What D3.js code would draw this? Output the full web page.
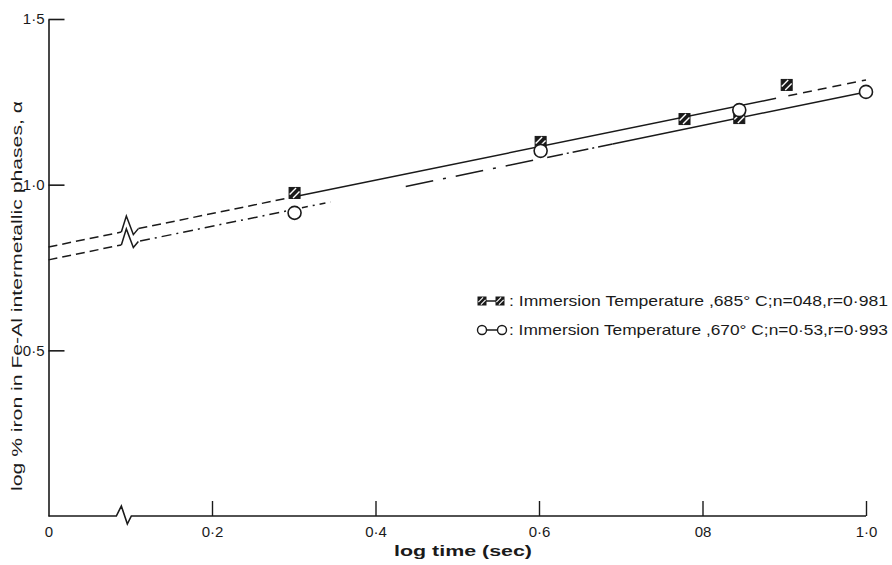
<!DOCTYPE html>
<html>
<head>
<meta charset="utf-8">
<script src="https://cdn.jsdelivr.net/npm/d3@7/dist/d3.min.js"></script>
<style>
  html, body { margin: 0; padding: 0; background: #fff; }
  svg { display: block; font-family: "Liberation Sans", Arial, sans-serif; }
</style>
</head>
<body>
<svg id="chart" width="892" height="565"></svg>
<script>
// ---------------- data ----------------
const xTickValues = [0, 0.2, 0.4, 0.6, 0.8, 1.0];
const xTickLabels = ["0", "0·2", "0·4", "0·6", "08", "1·0"];
const yTickValues = [0.5, 1.0, 1.5];
const yTickLabels = ["0·5", "1·0", "1·5"];

// 685 °C series (hatched squares)
const logTime685 = [0.301, 0.602, 0.778, 0.845, 0.903];
const logIron685 = [0.975, 1.129, 1.198, 1.201, 1.301];
// 670 °C series (open circles)
const logTime670 = [0.301, 0.602, 0.845, 1.0];
const logIron670 = [0.915, 1.102, 1.225, 1.280];

// fitted lines (intercept at log time 0, slope)
const fitIntercepts = [0.812, 0.773];
const fitSlopes = [0.504, 0.507];
const axisBreakAt = 0.094;

const legendLabels = [
  ": Immersion Temperature ,685° C;n=048,r=0·981",
  ": Immersion Temperature ,670° C;n=0·53,r=0·993"
];
const xTitle = "log time (sec)";
const yTitle = "log % iron in Fe-Al  intermetallic  phases, α";

// ---------------- drawing ----------------
const svg = d3.select("#chart");
const x = d3.scaleLinear().domain([0, 1]).range([48.5, 866]);
const y = d3.scaleLinear().domain([0, 1.5]).range([516, 19]);
const ink = "#1a1a1a";

// y axis
const yAxis = d3.axisLeft(y)
  .tickValues(yTickValues)
  .tickFormat((d, i) => yTickLabels[i])
  .tickSizeInner(-16).tickSizeOuter(0).tickPadding(4);
const gy = svg.append("g").attr("transform", `translate(${x(0)},0)`).call(yAxis);
gy.selectAll("path, line").attr("stroke", ink).attr("stroke-width", 1.6);
gy.selectAll("text").attr("fill", ink).attr("font-size", 15)
  .attr("font-family", "Liberation Sans, Arial, sans-serif");

// x axis (ticks + labels), domain drawn separately with break
const xAxis = d3.axisBottom(x)
  .tickValues(xTickValues)
  .tickFormat((d, i) => xTickLabels[i])
  .tickSizeInner(-15).tickSizeOuter(0).tickPadding(10);
const gx = svg.append("g").attr("transform", `translate(0,${y(0)})`).call(xAxis);
gx.select(".domain").remove();
gx.selectAll("line").attr("stroke", ink).attr("stroke-width", 1.4);
gx.selectAll(".tick").filter(d => d === 0).select("line").remove();
gx.selectAll("text").attr("fill", ink).attr("font-size", 15)
  .attr("font-family", "Liberation Sans, Arial, sans-serif");

const bx = x(axisBreakAt);
const y0 = y(0);
svg.append("path")
  .attr("d", `M${x(0)},${y0} H${bx - 9} L${bx - 4},${y0 - 10} L${bx + 2},${y0 + 8} L${bx + 6},${y0} H${x(1)}`)
  .attr("fill", "none").attr("stroke", ink).attr("stroke-width", 1.6);

// fitted lines
function fitY(k, t) { return fitIntercepts[k] + fitSlopes[k] * t; }
function segment(k, t0, t1, dash, w) {
  svg.append("line")
    .attr("x1", x(t0)).attr("y1", y(fitY(k, t0)))
    .attr("x2", x(t1)).attr("y2", y(fitY(k, t1)))
    .attr("stroke", ink).attr("stroke-width", w || 1.5)
    .attr("stroke-dasharray", dash || null);
}
function breakGlyph(k) {
  const px = x(axisBreakAt), py = y(fitY(k, axisBreakAt));
  const s = fitSlopes[k] * (y(0) - y(1)) / (x(1) - x(0));
  const ly = dx => py - s * dx;
  svg.append("path")
    .attr("d", `M${px - 4},${ly(-4)} L${px + 1},${ly(1) - 15} L${px + 8},${ly(8) + 5} L${px + 13},${ly(13)}`)
    .attr("fill", "none").attr("stroke", ink).attr("stroke-width", 1.5);
}

// upper (685)
segment(0, 0, axisBreakAt - 0.005, "9,5");
segment(0, axisBreakAt + 0.016, 0.295, "9,5");
segment(0, 0.305, 0.89, null);
segment(0, 0.905, 1.0, "9,6");
breakGlyph(0);

// lower (670)
segment(1, 0, axisBreakAt - 0.005, "9,5");
segment(1, axisBreakAt + 0.018, 0.295, "10,5,2,5");
segment(1, 0.31, 0.345, "6,5,2,5");
segment(1, 0.437, 0.6, "28,10,3,10");
segment(1, 0.61, 0.69, "16,4,2,4");
segment(1, 0.69, 1.0, null);
breakGlyph(1);

// markers
function squareMarker(g, cx, cy, h) {
  g.append("rect").attr("x", cx - h).attr("y", cy - h).attr("width", 2 * h).attr("height", 2 * h)
    .attr("fill", ink).attr("stroke", ink).attr("stroke-width", 1);
  const a = h * 0.9, b = h * 0.27;
  g.append("line").attr("x1", cx - a).attr("y1", cy + b).attr("x2", cx + b).attr("y2", cy - a)
    .attr("stroke", "#fff").attr("stroke-width", h > 5 ? 1.4 : 1.1);
  g.append("line").attr("x1", cx - b).attr("y1", cy + a).attr("x2", cx + a).attr("y2", cy - b)
    .attr("stroke", "#fff").attr("stroke-width", h > 5 ? 1.4 : 1.1);
}
const gm = svg.append("g");
logTime685.forEach((t, i) => squareMarker(gm, x(t), y(logIron685[i]), 5.5));
gm.selectAll("circle.c670").data(logTime670).enter().append("circle")
  .attr("class", "c670")
  .attr("cx", d => x(d)).attr("cy", (d, i) => y(logIron670[i])).attr("r", 6.5)
  .attr("fill", "#fff").attr("stroke", ink).attr("stroke-width", 1.6);

// legend
const lg = svg.append("g");
const legendRows = [301, 330];
// row 1: square—square
lg.append("line").attr("x1", 482).attr("x2", 500).attr("y1", legendRows[0]).attr("y2", legendRows[0])
  .attr("stroke", ink).attr("stroke-width", 1.5);
squareMarker(lg, 482, legendRows[0], 4);
squareMarker(lg, 500, legendRows[0], 4);
// row 2: circle—circle
lg.append("line").attr("x1", 482).attr("x2", 502).attr("y1", legendRows[1]).attr("y2", legendRows[1])
  .attr("stroke", ink).attr("stroke-width", 1.5);
[482, 502].forEach(cx => lg.append("circle").attr("cx", cx).attr("cy", legendRows[1]).attr("r", 4.5)
  .attr("fill", "#fff").attr("stroke", ink).attr("stroke-width", 1.4));
legendLabels.forEach((t, i) => {
  lg.append("text").attr("x", 509).attr("y", legendRows[i] + 5)
    .attr("font-size", 15).attr("fill", ink)
    .attr("textLength", 379).attr("lengthAdjust", "spacingAndGlyphs")
    .text(t);
});

// axis titles
svg.append("text").attr("x", 463).attr("y", 556).attr("text-anchor", "middle")
  .attr("font-size", 15).attr("font-weight", "bold").attr("fill", ink)
  .attr("textLength", 138).attr("lengthAdjust", "spacingAndGlyphs")
  .text(xTitle);
svg.append("text")
  .attr("transform", "translate(22,296) rotate(-90)")
  .attr("text-anchor", "middle").attr("font-size", 15).attr("fill", ink)
  .attr("textLength", 390).attr("lengthAdjust", "spacingAndGlyphs")
  .text(yTitle);
</script>
</body>
</html>
